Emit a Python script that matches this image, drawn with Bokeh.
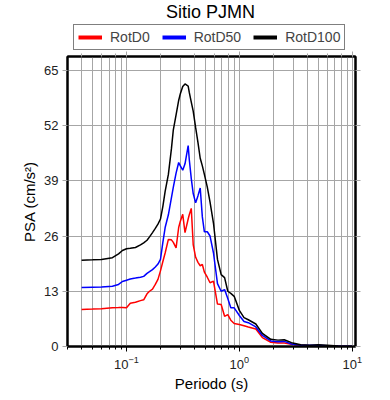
from bokeh.plotting import figure
from bokeh.models import (LogAxis, LinearAxis, Legend, LegendItem, FixedTicker,
                          Range1d, Label)
from bokeh.layouts import column
from bokeh.embed import file_html
from bokeh.resources import INLINE

periods = [0.04, 0.05, 0.06, 0.075, 0.085, 0.092, 0.1, 0.108, 0.12, 0.133, 0.142,
           0.152, 0.16, 0.17, 0.18, 0.19, 0.2, 0.21, 0.22, 0.235, 0.25, 0.26, 0.275,
           0.29, 0.3, 0.315, 0.33, 0.352, 0.36, 0.375, 0.39, 0.41, 0.43, 0.45, 0.47,
           0.49, 0.52, 0.55, 0.59, 0.64, 0.69, 0.74, 0.79, 0.84, 0.9, 1.0, 1.1, 1.2,
           1.4, 1.6, 1.9, 2.2, 2.5, 2.9, 3.5, 4.2, 5.0, 6.0, 7.5, 10.0]

rotd0 = [8.7, 8.8, 8.9, 9.1, 9.15, 9.2, 9.1, 10.2, 10.4, 10.8, 11.0,
         12.4, 13.0, 13.5, 14.6, 15.8, 17.8, 20.0, 22.0, 25.2, 25.1, 24.5, 23.2,
         28.0, 29.5, 31.1, 26.8, 30.0, 31.0, 32.5, 24.0, 21.0, 19.8, 19.0, 19.3,
         17.5, 16.3, 15.0, 15.4, 10.0, 9.9, 7.1, 7.5, 6.2, 5.4, 5.2, 4.9, 4.6,
         4.1, 2.1, 1.0, 0.8, 0.8, 0.5, 0.3, 0.2, 0.2, 0.1, 0.05, 0.02]

rotd50 = [13.9, 13.95, 14.0, 14.2, 14.6, 15.3, 15.6, 15.9, 16.1, 16.3, 16.5,
          17.2, 17.6, 18.1, 18.7, 19.4, 20.5, 24.5, 28.0, 31.0, 35.0, 37.5, 40.8,
          43.3, 42.5, 41.5, 43.0, 47.3, 44.0, 39.5, 36.0, 33.8, 35.5, 37.3, 30.5,
          27.0, 27.0, 26.0, 22.0, 14.8, 13.0, 13.4, 11.3, 9.1, 9.1, 7.3, 5.9, 5.6,
          4.6, 2.6, 1.3, 1.1, 1.2, 0.6, 0.3, 0.3, 0.3, 0.2, 0.1, 0.03]

rotd100 = [20.3, 20.4, 20.5, 20.9, 21.8, 22.6, 23.0, 23.1, 23.3, 23.9, 24.4,
           25.0, 25.8, 26.8, 27.8, 28.8, 30.0, 33.0, 36.5, 40.5, 46.5, 51.0, 54.5,
           57.9, 59.5, 61.2, 61.8, 61.3, 59.8, 57.5, 55.4, 51.5, 48.0, 44.3, 42.5,
           40.5, 37.5, 34.0, 29.0, 20.5, 16.9, 16.2, 13.0, 12.5, 11.8, 8.5, 6.8, 6.3,
           5.3, 3.1, 1.7, 1.5, 1.6, 0.9, 0.4, 0.3, 0.4, 0.3, 0.1, 0.05]

y_ticks = [0, 13, 26, 39, 52, 65]
series_names = ["RotD0", "RotD50", "RotD100"]
series_colors = ["#ff0000", "#0000ff", "#000000"]
title_text = "Sitio PJMN"

FONT = "Liberation Sans"
GRID = "#a6a6a6"
W = 382
TOP_H = 51
MAIN_H = 343
BORDER_L = 67
BORDER_R = 27

# ---- header figure: title + legend (frame aligned with the main frame) ----
head = figure(width=W, height=TOP_H, x_axis_type=None, y_axis_type=None,
              x_range=Range1d(0, 1), y_range=Range1d(0, 1),
              output_backend="svg", toolbar_location=None,
              min_border_left=BORDER_L, min_border_right=BORDER_R,
              min_border_top=0, min_border_bottom=0)
head.outline_line_color = None
head.xgrid.visible = False
head.ygrid.visible = False
head.add_layout(Label(x=143, y=TOP_H - 11, x_units="screen", y_units="screen",
                      text=title_text, text_font=FONT, text_font_size="18px",
                      text_align="center", text_baseline="middle",
                      text_color="black"))
items = []
for name, col in zip(series_names, series_colors):
    r = head.line(x=[-5.0, -4.0], y=[-5.0, -5.0], line_color=col, line_width=4)
    items.append(LegendItem(label=name, renderers=[r]))
legend = Legend(items=items, orientation="horizontal", location=(6, 1),
                border_line_color="black", border_line_width=1.5,
                label_text_font=FONT, label_text_font_size="14px",
                glyph_width=24, glyph_height=10, spacing=12, padding=4,
                margin=0, label_standoff=8)
head.add_layout(legend, "center")

# ---- main figure ----
p = figure(width=W, height=MAIN_H, x_axis_type="log",
           x_range=Range1d(0.03, 10.7), y_range=Range1d(0, 68.25),
           output_backend="svg", toolbar_location=None,
           min_border_left=BORDER_L, min_border_right=BORDER_R,
           min_border_bottom=46, min_border_top=0)
p.outline_line_color = "black"
p.outline_line_width = 2

p.xgrid.grid_line_color = GRID
p.xgrid.minor_grid_line_color = GRID
p.ygrid.ticker = FixedTicker(ticks=y_ticks)
p.ygrid.grid_line_color = GRID

xa = p.xaxis[0]
xa.axis_label = "Periodo (s)"
ya = p.yaxis[0]
ya.axis_label = "PSA (cm/s²)"
ya.ticker = FixedTicker(ticks=y_ticks)
for ax in (xa, ya):
    ax.axis_label_text_font = FONT
    ax.axis_label_text_font_size = "15px"
    ax.axis_label_text_font_style = "normal"
    ax.axis_label_text_color = "black"
    ax.major_label_text_font = FONT
    ax.major_label_text_font_size = "13px"
    ax.major_label_text_color = "#222222"
    ax.axis_line_width = 2
    ax.major_tick_out = 5
    ax.major_tick_in = 0
    ax.minor_tick_out = 3
    ax.minor_tick_in = 0
    ax.major_label_standoff = 4
    ax.axis_label_standoff = 3
ya.minor_tick_line_color = None
ya.major_tick_line_color = GRID

top = LogAxis(axis_line_width=2, major_label_text_font_size="1px",
              major_label_text_alpha=0,
              major_tick_out=5, major_tick_in=0, minor_tick_out=3, minor_tick_in=0,
              major_tick_line_color=GRID, minor_tick_line_color=GRID,
              major_label_standoff=0)
p.add_layout(top, "above")
right = LinearAxis(ticker=FixedTicker(ticks=y_ticks),
                   major_label_text_font_size="1px", major_label_text_alpha=0,
                   axis_line_width=2, major_tick_out=5, major_tick_in=0,
                   minor_tick_line_color=None, major_tick_line_color=GRID,
                   major_label_standoff=0)
p.add_layout(right, "right")

vals = [rotd0, rotd50, rotd100]
for name, col, v in zip(series_names, series_colors, vals):
    p.line(periods, v, line_color=col, line_width=1.5)

layout = column(head, p, spacing=0)
open("out.html", "w").write(file_html(layout, INLINE))
